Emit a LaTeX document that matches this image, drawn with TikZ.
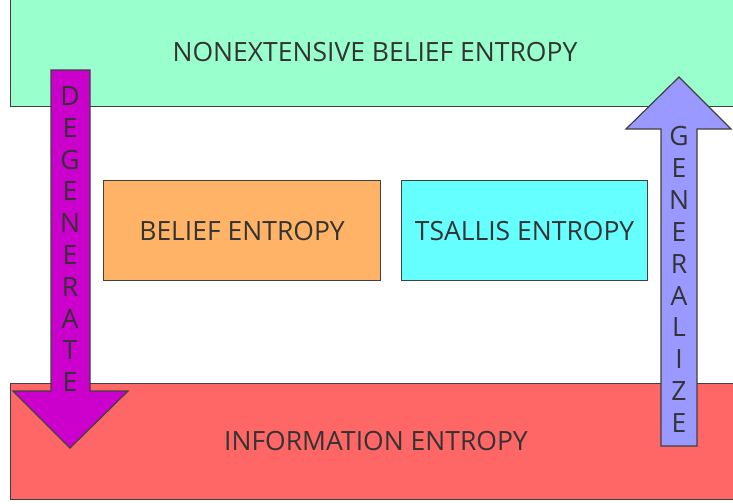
\documentclass[tikz,border=0pt]{standalone}
\usepackage{fontspec}
\setmainfont{Open Sans}
\begin{document}
\begin{tikzpicture}[x=1pt,y=-1pt,
  box/.style={draw=black!75,line width=1.2pt,anchor=north west,inner sep=0pt},
  lbl/.style={text=black!80,font=\fontsize{26.5}{30}\selectfont,inner sep=0pt},
  arr/.style={draw=black!75,line width=1.2pt},
  letter/.style={text=black!80,font=\fontsize{26.5}{30}\selectfont,inner sep=0pt}]
\definecolor{cTop}{HTML}{99FFCC}
\definecolor{cBot}{HTML}{FF6666}
\definecolor{cBel}{HTML}{FFB366}
\definecolor{cTsa}{HTML}{66FFFF}
\definecolor{cDeg}{HTML}{CC00CC}
\definecolor{cGen}{HTML}{9999FF}
\useasboundingbox (0,0) rectangle (733,503);
\fill[white] (0,0) rectangle (733,503);
\begin{scope}
\clip (0,0) rectangle (733,503);
\node[box,fill=cTop,minimum width=740pt,minimum height=107pt] (top) at (10,-1) {};
\node[box,fill=cBot,minimum width=740pt,minimum height=116pt] (bot) at (10,383) {};
\end{scope}
\node[lbl] (toptext) at (375,52) {NONEXTENSIVE BELIEF ENTROPY};
\node[lbl] (bottext) at (376,441) {INFORMATION ENTROPY};
\node[box,fill=cBel,minimum width=277pt,minimum height=100pt] (bel) at (103,180) {};
\node[lbl] (beltext) at (bel.center) {BELIEF ENTROPY};
\node[box,fill=cTsa,minimum width=246pt,minimum height=100pt] (tsa) at (401,180) {};
\node[lbl] (tsatext) at (tsa.center) {TSALLIS ENTROPY};
% degenerate arrow
\draw[arr,fill=cDeg] (51,70) -- (90,70) -- (90,391) -- (128,391) -- (70,448) -- (13,391) -- (51,391) -- cycle;
\foreach \l [count=\i from 0] in {D,E,G,E,N,E,R,A,T,E}
  \node[letter] (d\i) at (70,{96+\i*31.8}) {\l};
% generalize arrow
\draw[arr,fill=cGen] (661,446) -- (697,446) -- (697,129) -- (731,129) -- (679,77) -- (626,129) -- (661,129) -- cycle;
\foreach \l [count=\i from 0] in {G,E,N,E,R,A,L,I,Z,E}
  \node[letter] (g\i) at (679,{136+\i*31.9}) {\l};
\end{tikzpicture}
\end{document}
